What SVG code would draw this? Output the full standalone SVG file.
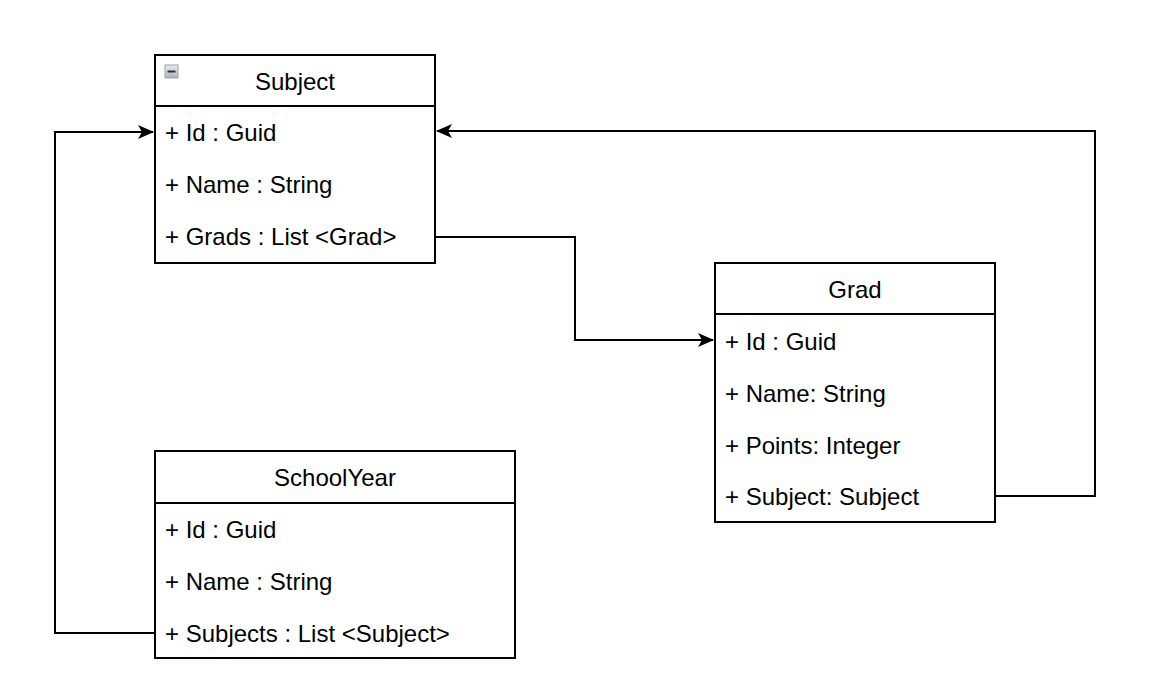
<svg xmlns="http://www.w3.org/2000/svg" width="1168" height="700" viewBox="0 0 1168 700">
<defs>
<style>
.box{fill:#fff;stroke:#000;stroke-width:2}
.sep{stroke:#000;stroke-width:2}
.t{font-family:"Liberation Sans",Arial,sans-serif;font-size:24px;fill:#000}
.h{text-anchor:middle}
.c{fill:none;stroke:#000;stroke-width:2}
</style>
<marker id="arr" viewBox="0 0 16 14" refX="15" refY="7" markerWidth="16" markerHeight="14" markerUnits="userSpaceOnUse" orient="auto">
<path d="M0,0 L16,7 L0,14 L4,7 Z" fill="#000"/>
</marker>
<linearGradient id="ig" x1="0" y1="0" x2="0" y2="1">
<stop offset="0" stop-color="#e8edf2"/>
<stop offset="1" stop-color="#a9b4c0"/>
</linearGradient>
</defs>
<g id="connectors">
<path class="c" d="M435,237 H575 V340 H713" marker-end="url(#arr)"/>
<path class="c" d="M995,496 H1095 V131 H437" marker-end="url(#arr)"/>
<path class="c" d="M155,633 H55 V132 H153" marker-end="url(#arr)"/>
</g>
<g id="subject">
<rect class="box" x="155" y="55" width="280" height="208"/>
<line class="sep" x1="155" y1="106" x2="435" y2="106"/>
<rect x="165" y="65" width="13" height="13" fill="url(#ig)" stroke="#9aa3ad" stroke-width="1"/>
<rect x="167.5" y="70.5" width="8" height="2" fill="#333"/>
<text class="t h" x="295" y="90">Subject</text>
<text class="t" x="165" y="141">+ Id : Guid</text>
<text class="t" x="165" y="193">+ Name : String</text>
<text class="t" x="165" y="245">+ Grads : List &lt;Grad&gt;</text>
</g>
<g id="grad">
<rect class="box" x="715" y="263" width="280" height="259"/>
<line class="sep" x1="715" y1="314" x2="995" y2="314"/>
<text class="t h" x="855" y="298">Grad</text>
<text class="t" x="725" y="350">+ Id : Guid</text>
<text class="t" x="725" y="402">+ Name: String</text>
<text class="t" x="725" y="454">+ Points: Integer</text>
<text class="t" x="725" y="505">+ Subject: Subject</text>
</g>
<g id="schoolyear">
<rect class="box" x="155" y="451" width="360" height="207"/>
<line class="sep" x1="155" y1="503" x2="515" y2="503"/>
<text class="t h" x="335" y="486">SchoolYear</text>
<text class="t" x="165" y="538">+ Id : Guid</text>
<text class="t" x="165" y="590">+ Name : String</text>
<text class="t" x="165" y="642">+ Subjects : List &lt;Subject&gt;</text>
</g>
</svg>
